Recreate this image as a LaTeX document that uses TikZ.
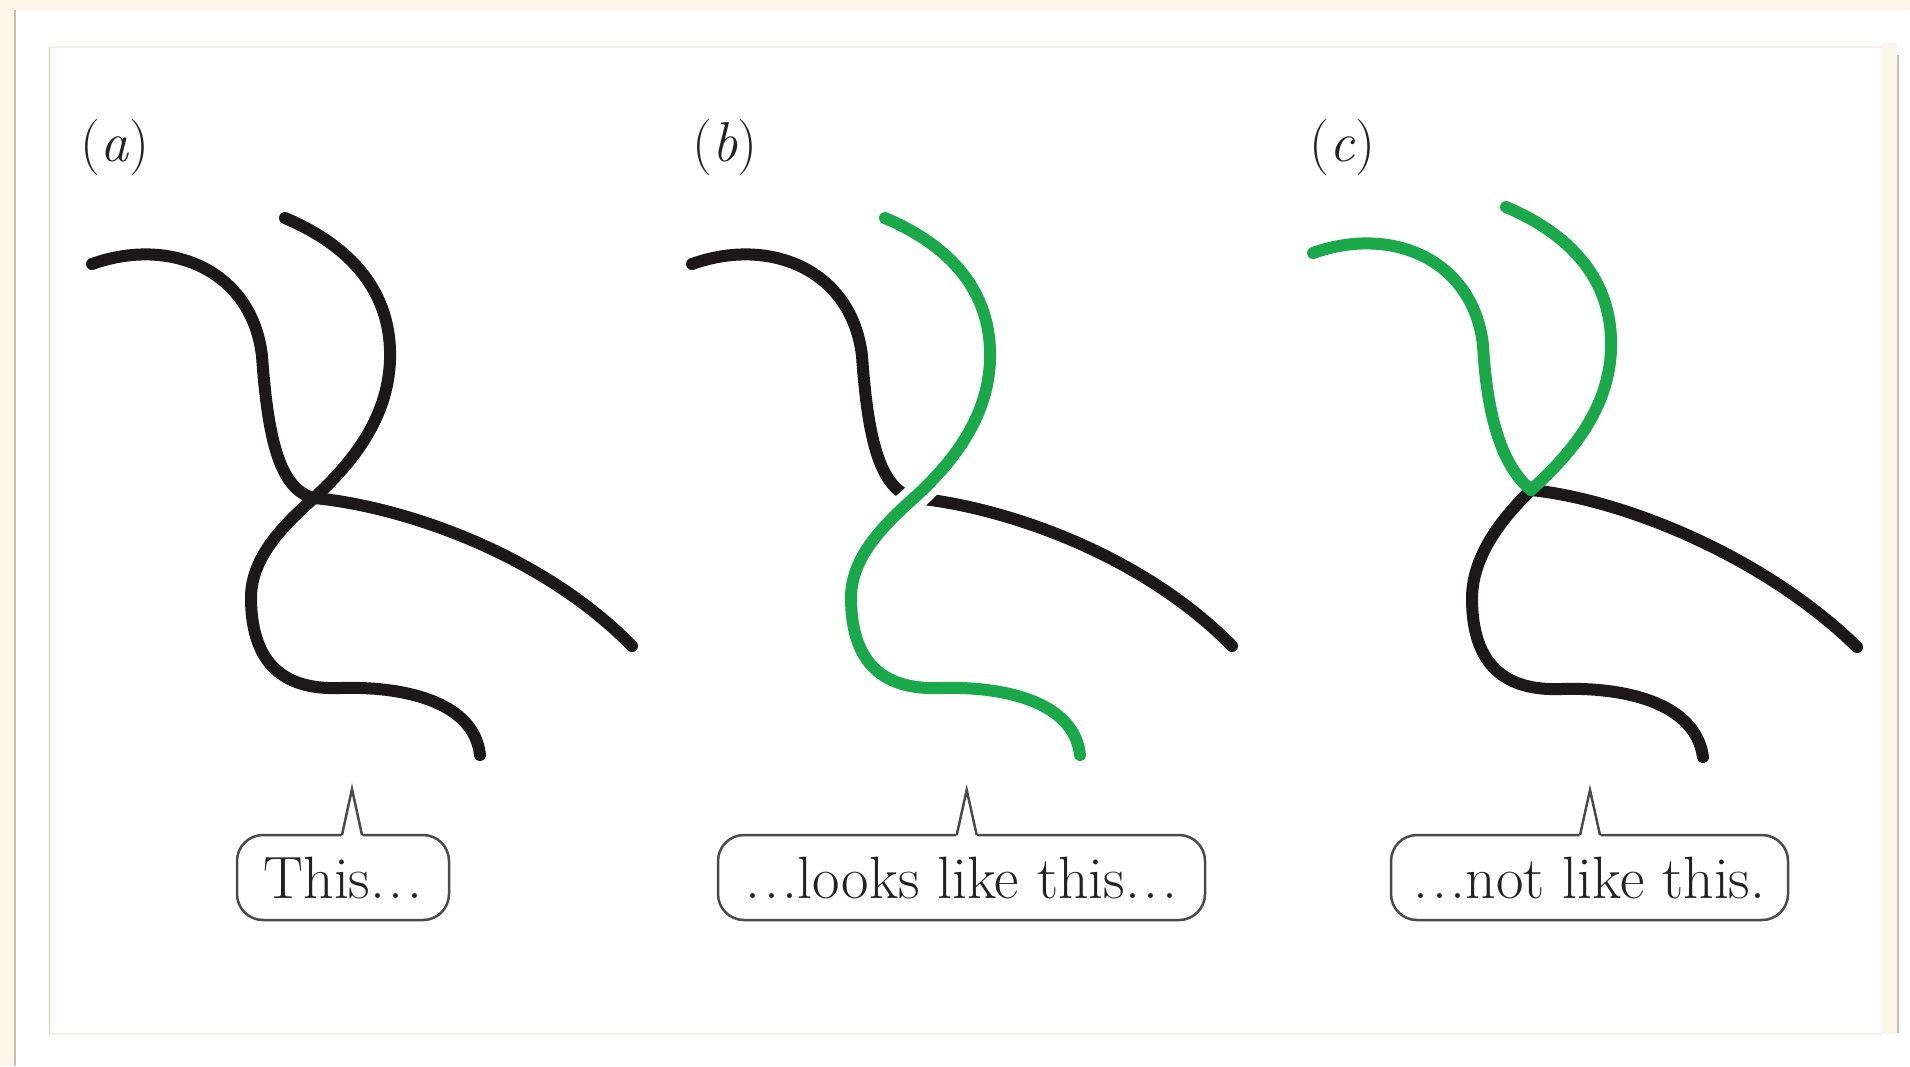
\documentclass[tikz,border=0pt]{standalone}
\definecolor{cream}{HTML}{FDF5E7}
\definecolor{edgegrey}{HTML}{C8BFB2}
\definecolor{panelL}{HTML}{D8CFC2}
\definecolor{panelT}{HTML}{F2EFEA}
\definecolor{ink}{HTML}{1C1819}
\definecolor{grn}{HTML}{1BA84A}
\definecolor{boxline}{HTML}{4A4A4A}
\definecolor{txt}{HTML}{222222}
\newcommand\mydots{.\kern0.06em.\kern0.06em.}
\begin{document}
\begin{tikzpicture}[x=0.1mm,y=-0.1mm,
  strand/.style={line width=1.2mm, line cap=round, line join=round},
  halo/.style={line width=2.7mm, white, line cap=butt},
  lbl/.style={font=\fontsize{16}{19}\selectfont, text=txt, inner sep=0pt},
  callbox/.style={draw=boxline, line width=0.25mm, rounded corners=2.6mm, fill=white,
    inner sep=0pt, minimum height=8.5mm, font=\fontsize{17}{20}\selectfont, text=txt},
  spike/.style={draw=boxline, line width=0.25mm, line join=miter}]
\useasboundingbox (0,0) rectangle (1910,1066);
% background frame
\fill[white] (0,0) rectangle (1910,1066);
\fill[cream] (0,0) rectangle (1910,9.5);
\fill[cream] (0,0) rectangle (13.5,1066);
\fill[edgegrey] (13.5,10) rectangle (15.5,1066);
\fill[cream] (1882,43) rectangle (1897,1034);
\fill[edgegrey] (1897,55) rectangle (1899,1033);
\draw[panelL, line width=0.15mm] (49.5,47) -- (49.5,1034);
\draw[panelT, line width=0.2mm] (50,47.3) -- (1882,47.3);
\draw[panelT, line width=0.2mm] (50,1034) -- (1882,1034);

% ---------- panel (a)
\node[lbl, anchor=base west] (la) at (80,161) {(\textit{a})};
\draw[strand, ink] (92,264) .. controls (170,236) and (252,270) .. (262,356)
   .. controls (268,440) and (280,490) .. (314,498)
   .. controls (400,506) and (540,552) .. (632,646);
\draw[strand, ink] (285,218) .. controls (360,250) and (392,300) .. (390,360)
   .. controls (388,420) and (350,465) .. (314,498)
   .. controls (280,528) and (250,560) .. (251,600)
   .. controls (252,665) and (285,690) .. (340,688)
   .. controls (400,686) and (474,700) .. (480,755);

% ---------- panel (b)
\node[lbl, anchor=base west] (lb) at (692,161) {(\textit{b})};
\begin{scope}[shift={(600,0)}]
\draw[strand, ink] (92,264) .. controls (170,236) and (252,270) .. (262,356)
   .. controls (268,440) and (280,490) .. (314,498)
   .. controls (400,506) and (540,552) .. (632,646);
\draw[halo] (390,360) .. controls (388,420) and (350,465) .. (314,498)
   .. controls (280,528) and (250,560) .. (251,600);
\draw[strand, grn] (285,218) .. controls (360,250) and (392,300) .. (390,360)
   .. controls (388,420) and (350,465) .. (314,498)
   .. controls (280,528) and (250,560) .. (251,600)
   .. controls (252,665) and (285,690) .. (340,688)
   .. controls (400,686) and (474,700) .. (480,755);
\end{scope}

% ---------- panel (c)
\node[lbl, anchor=base west] (lc) at (1309,161) {(\textit{c})};
\begin{scope}[shift={(1221,-11)}]
\draw[strand, ink] (310,501) .. controls (400,510) and (542,566) .. (636,658);
\draw[strand, ink] (310,501) .. controls (278,532) and (250,570) .. (251,612)
   .. controls (252,677) and (285,702) .. (340,700)
   .. controls (400,698) and (474,712) .. (482,768);
\draw[strand, grn] (92,264) .. controls (170,236) and (252,270) .. (262,356)
   .. controls (266,430) and (282,478) .. (310,501);
\draw[strand, grn] (285,218) .. controls (360,250) and (392,300) .. (390,360)
   .. controls (388,420) and (350,465) .. (310,501);
\end{scope}

% ---------- callouts
\node[callbox, minimum width=21.2mm] (ca) at (343,877.5) {This\mydots};
\coordinate (apa) at (352,789);
\fill[white] (341,837) -- (342,835) -- (apa) -- (362,835) -- (363,837) -- cycle;
\draw[spike] (342,835) -- (apa) -- (362,835);

\node[callbox, minimum width=48.7mm] (cb) at (961.5,877.5) {\mydots looks like this\mydots};
\coordinate (apb) at (966.7,790);
\fill[white] (955.7,837) -- (956.7,835) -- (apb) -- (976.7,835) -- (977.7,837) -- cycle;
\draw[spike] (956.7,835) -- (apb) -- (976.7,835);

\node[callbox, minimum width=39.7mm] (cc) at (1589.5,877.5) {\mydots not like this.};
\coordinate (apc) at (1590,790);
\fill[white] (1579,837) -- (1580,835) -- (apc) -- (1600,835) -- (1601,837) -- cycle;
\draw[spike] (1580,835) -- (apc) -- (1600,835);
\end{tikzpicture}
\end{document}
